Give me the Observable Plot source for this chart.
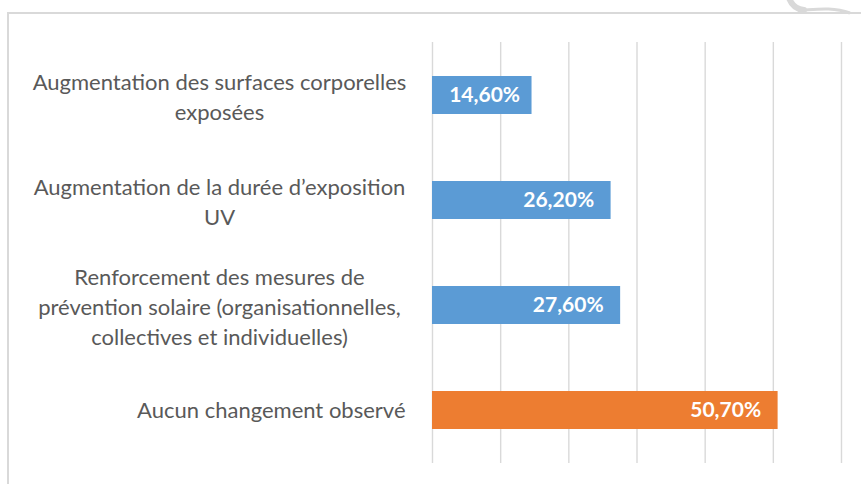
<!DOCTYPE html>
<html>
<head>
<meta charset="utf-8">
<script src="https://cdn.jsdelivr.net/npm/d3@7"></script>
<script src="https://cdn.jsdelivr.net/npm/@observablehq/plot@0.6"></script>
<style>
  html, body { margin: 0; padding: 0; background: #fff; }
  #wrap { position: relative; width: 861px; height: 484px; overflow: hidden; }
  #frame { position: absolute; left: 7px; top: 12px; width: 900px; height: 600px;
           border-left: 2px solid #d9d9d9; border-top: 2px solid #d9d9d9; }
  #chart { position: absolute; left: 0; top: 0; }
  #curl { position: absolute; left: 0; top: 0; }
</style>
</head>
<body>
<div id="wrap">
  <div id="frame"></div>
  <div id="chart"></div>
  <svg id="curl" width="861" height="484">
    <path d="M789,-2 Q793,9 804,10" fill="none" stroke="#d9d9d9" stroke-width="6" stroke-linecap="round"/>
    <path d="M804,10 C818,9 834,7 850,13" fill="none" stroke="#d9d9d9" stroke-width="3"/>
  </svg>
</div>
<script>
const categories = [
  "Augmentation des surfaces corporelles\nexposées",
  "Augmentation de la durée d’exposition\nUV",
  "Renforcement des mesures de\nprévention solaire (organisationnelles,\ncollectives et individuelles)",
  "Aucun changement observé"
];
const values = [14.6, 26.2, 27.6, 50.7];
const valueLabels = ["14,60%", "26,20%", "27,60%", "50,70%"];
const barColors = ["#5b9bd5", "#5b9bd5", "#5b9bd5", "#ed7d31"];
const gridTicks = [0, 10, 20, 30, 40, 50, 60];

const data = categories.map((c, i) => ({cat: c, value: values[i], label: valueLabels[i], color: barColors[i]}));
const wrapped = data.filter(d => d.cat.includes("\n"));
const single = data.filter(d => !d.cat.includes("\n"));

const chart = Plot.plot({
  width: 861,
  height: 484,
  marginLeft: 432,
  marginRight: 20,
  marginTop: 42,
  marginBottom: 21,
  style: {background: "transparent", fontFamily: "Lato, sans-serif"},
  x: {domain: [0, 60], axis: null},
  y: {domain: categories, axis: null, paddingInner: 0.64, paddingOuter: 0.31},
  marks: [
    Plot.ruleX(gridTicks, {stroke: "#d9d9d9", strokeWidth: 1.4}),
    Plot.barX(data, {x: "value", y: "cat", fill: "color"}),
    Plot.text(wrapped, {x: 0, y: "cat", text: "cat", dx: -213, textAnchor: "middle",
      fill: "#595959", fontSize: 22, lineHeight: 1.36}),
    Plot.text(single, {x: 0, y: "cat", text: "cat", dx: -27, textAnchor: "end",
      fill: "#595959", fontSize: 22}),
    Plot.text(data.filter(d => d.value < 20), {x: "value", y: "cat", text: "label", dx: -12, textAnchor: "end",
      fill: "white", fontWeight: "bold", fontSize: 21}),
    Plot.text(data.filter(d => d.value >= 20), {x: "value", y: "cat", text: "label", dx: -17, textAnchor: "end",
      fill: "white", fontWeight: "bold", fontSize: 21})
  ]
});
document.getElementById("chart").appendChild(chart);
</script>
</body>
</html>
